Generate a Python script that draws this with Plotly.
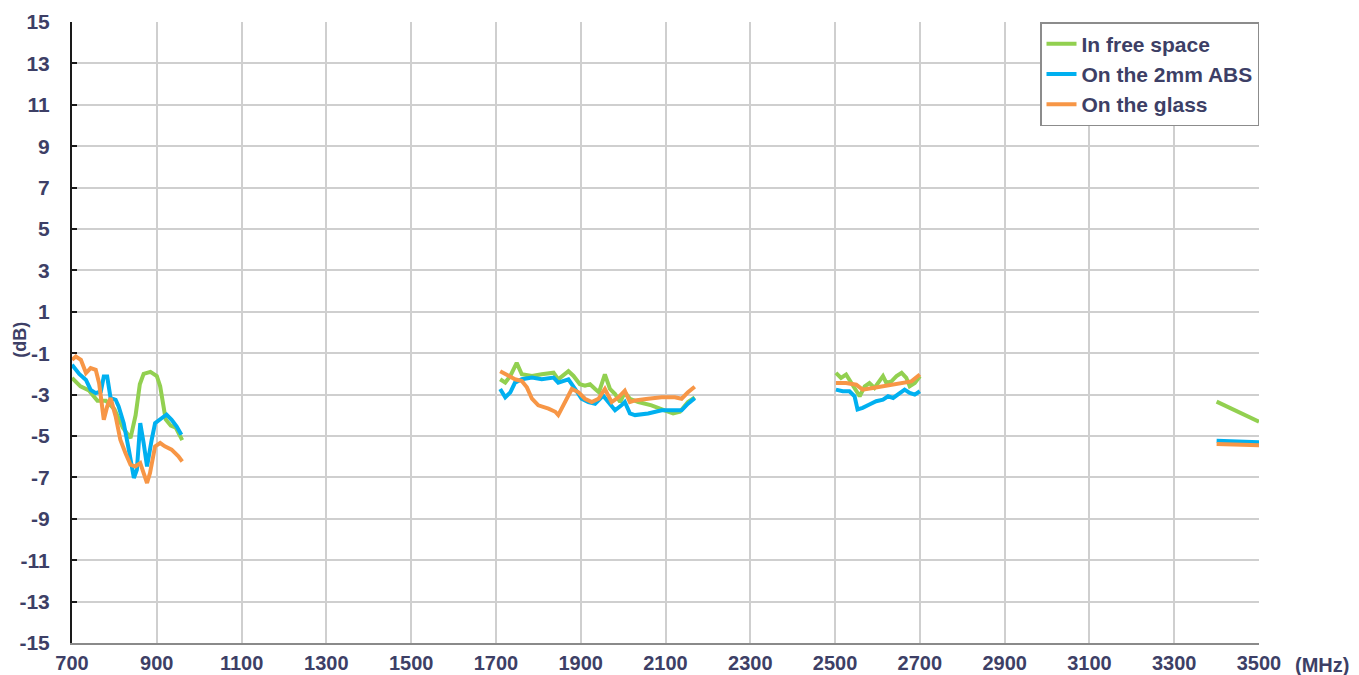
import plotly.graph_objects as go

# ---- data (frequency in MHz, gain in dB) ----
free_x1 = [700, 720, 740, 760, 780, 800, 820, 838, 850, 860, 869, 885, 900, 908, 921, 933, 945, 960]
free_y1 = [-2.2, -2.6, -2.8, -3.3, -3.3, -3.7, -4.6, -5.1, -4.0, -2.5, -2.0, -1.9, -2.1, -2.6, -4.2, -4.5, -4.6, -5.2]
free_x2 = [1710, 1722, 1734, 1749, 1761, 1785, 1808, 1836, 1847, 1871, 1883, 1898, 1910, 1922, 1934, 1943,
           1957, 1969, 1981, 1993, 2004, 2016, 2036, 2067, 2098, 2118, 2134, 2153, 2169]
free_y2 = [-2.26, -2.42, -2.10, -1.47, -2.02, -2.10, -2.02, -1.94, -2.26, -1.87, -2.10, -2.50, -2.57, -2.50, -2.73, -2.89,
           -2.02, -2.73, -2.97, -3.36, -2.89, -3.20, -3.36, -3.52, -3.76, -3.91, -3.83, -3.36, -3.13]
free_x3 = [2502, 2514, 2526, 2538, 2550, 2558, 2570, 2581, 2593, 2605, 2613, 2621, 2633, 2645, 2657, 2668, 2676, 2688, 2700]
free_y3 = [-1.95, -2.19, -2.03, -2.44, -2.84, -3.08, -2.60, -2.44, -2.68, -2.36, -2.11, -2.44, -2.36, -2.11, -1.95, -2.19, -2.60, -2.44, -2.11]
free_x4 = [3400, 3500]
free_y4 = [-3.34, -4.31]

abs_x1 = [700, 717, 733, 744, 756, 768, 775, 783, 791, 803, 810, 822, 834, 846, 853, 861, 869, 877, 888, 896, 912, 923, 935, 947, 958]
abs_y1 = [-1.56, -2.0, -2.29, -2.77, -2.93, -2.85, -2.13, -2.13, -3.17, -3.25, -3.57, -4.38, -5.66, -7.03, -6.63, -4.38,
          -5.34, -6.47, -5.18, -4.38, -4.13, -3.97, -4.22, -4.54, -4.94]
abs_x2 = [1710, 1722, 1734, 1745, 1761, 1785, 1808, 1836, 1847, 1871, 1887, 1902, 1918, 1934, 1953, 1965, 1981,
          1996, 2004, 2016, 2028, 2059, 2091, 2122, 2138, 2153, 2169]
abs_y2 = [-2.73, -3.13, -2.89, -2.42, -2.26, -2.18, -2.26, -2.18, -2.42, -2.26, -2.73, -3.20, -3.36, -3.44, -3.05, -3.36, -3.76,
          -3.52, -3.36, -3.91, -3.99, -3.91, -3.76, -3.76, -3.76, -3.44, -3.17]
abs_x3 = [2502, 2518, 2534, 2546, 2553, 2565, 2581, 2597, 2613, 2625, 2637, 2653, 2664, 2676, 2688, 2700]
abs_y3 = [-2.76, -2.84, -2.84, -3.08, -3.72, -3.64, -3.48, -3.32, -3.24, -3.08, -3.16, -2.92, -2.76, -2.92, -3.00, -2.84]
abs_x4 = [3400, 3500]
abs_y4 = [-5.23, -5.30]

glass_x1 = [700, 709, 721, 733, 744, 756, 764, 775, 783, 791, 803, 814, 826, 838, 849, 861, 869, 877, 884, 896, 908, 919, 935, 951, 960]
glass_y1 = [-1.32, -1.16, -1.32, -1.96, -1.72, -1.80, -2.45, -4.22, -3.57, -3.17, -4.05, -5.18, -5.82, -6.39, -6.47, -6.31,
            -6.79, -7.27, -6.79, -5.50, -5.34, -5.50, -5.66, -5.98, -6.23]
glass_x2 = [1710, 1722, 1745, 1761, 1773, 1785, 1800, 1824, 1840, 1847, 1859, 1879, 1895, 1910, 1926, 1942, 1957,
            1973, 1989, 2004, 2016, 2028, 2059, 2091, 2122, 2138, 2153, 2169]
glass_y2 = [-1.87, -2.02, -2.26, -2.34, -2.65, -3.20, -3.52, -3.68, -3.83, -3.99, -3.52, -2.73, -2.89, -3.20, -3.36, -3.20, -2.73,
            -3.36, -3.13, -2.81, -3.36, -3.28, -3.20, -3.13, -3.13, -3.20, -2.89, -2.62]
glass_x3 = [2502, 2526, 2550, 2565, 2589, 2613, 2637, 2660, 2680, 2700]
glass_y3 = [-2.44, -2.44, -2.52, -2.76, -2.68, -2.60, -2.52, -2.44, -2.36, -2.03]
glass_x4 = [3400, 3500]
glass_y4 = [-5.39, -5.45]

series_names = ["In free space", "On the 2mm ABS", "On the glass"]
x_ticks = list(range(700, 3501, 200))
y_ticks = list(range(-15, 16, 2))


def join(*segs):
    out = []
    for i, s in enumerate(segs):
        if i:
            out.append(None)
        out.extend(s)
    return out


series = [
    (series_names[0], join(free_x1, free_x2, free_x3, free_x4), join(free_y1, free_y2, free_y3, free_y4), "#92D050"),
    (series_names[1], join(abs_x1, abs_x2, abs_x3, abs_x4), join(abs_y1, abs_y2, abs_y3, abs_y4), "#00B0F0"),
    (series_names[2], join(glass_x1, glass_x2, glass_x3, glass_x4), join(glass_y1, glass_y2, glass_y3, glass_y4), "#F79646"),
]

fig = go.Figure()
for name, xs, ys, col in series:
    fig.add_trace(go.Scatter(x=xs, y=ys, name=name, mode="lines",
                             line=dict(color=col, width=4), connectgaps=False))

txt = "#3d3f66"
fig.update_layout(
    width=1351, height=667,
    margin=dict(l=64, r=100, t=14, b=32, autoexpand=False),
    paper_bgcolor="white", plot_bgcolor="white",
    font=dict(family="Liberation Sans, Arial, sans-serif", color=txt),
    showlegend=True,
    legend=dict(x=1, xanchor="right", y=1, yanchor="top",
                bgcolor="white", bordercolor="#8c8c8c", borderwidth=1.5,
                font=dict(size=21, color=txt, family="Liberation Sans, Arial, sans-serif", weight="bold"),
                itemwidth=30, tracegroupgap=0),
    xaxis=dict(range=[700, 3500], tickvals=x_ticks, ticktext=[str(v) for v in x_ticks],
               showgrid=True, gridcolor="#cfcfcf", gridwidth=2,
               showline=True, linecolor="#8a8a8a", linewidth=2,
               ticks="", zeroline=False, ticklabelstandoff=1, automargin=False,
               tickfont=dict(size=20, color=txt, weight="bold")),
    yaxis=dict(range=[-15, 15], tickvals=y_ticks, ticktext=[str(v) for v in y_ticks],
               showgrid=True, gridcolor="#cfcfcf", gridwidth=2,
               showline=True, linecolor="#1a1a1a", linewidth=2,
               ticks="inside", ticklen=5, tickcolor="#1a1a1a", tickwidth=2,
               zeroline=False, ticklabelstandoff=16, automargin=False,
               tickfont=dict(size=21, color=txt, weight="bold")),
)

fig.add_annotation(text="(MHz)", xref="paper", yref="paper", x=1.053, y=-0.035,
                   xanchor="center", yanchor="middle", showarrow=False,
                   font=dict(size=20, color=txt, weight="bold"))
fig.add_annotation(text="(dB)", xref="paper", yref="paper", x=-0.044, y=0.488,
                   xanchor="center", yanchor="middle", showarrow=False, textangle=-90,
                   font=dict(size=18, color=txt, weight="bold"))

fig.write_html("out.html")
